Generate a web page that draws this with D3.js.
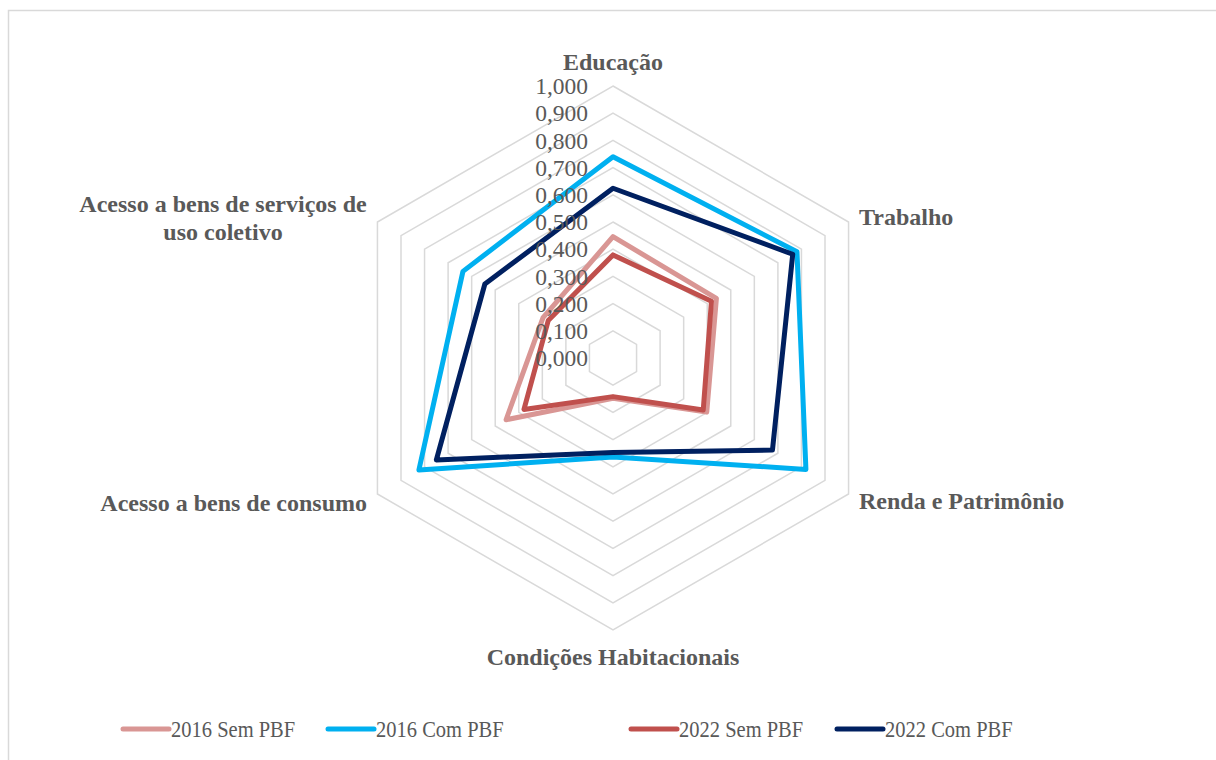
<!DOCTYPE html>
<html>
<head>
<meta charset="utf-8">
<script src="https://cdn.jsdelivr.net/npm/d3@7"></script>
<style>
  body { margin: 0; background: #fff; }
  text { font-family: "Liberation Serif", "Times New Roman", serif; fill: #595959; }
</style>
</head>
<body>
<svg id="radar" width="1216" height="760"></svg>
<script>
const categories = ['Educação', 'Trabalho', 'Renda e Patrimônio', 'Condições Habitacionais',
  'Acesso a bens de consumo', 'Acesso a bens de serviços de uso coletivo'];
const seriesNames = ['2016 Sem PBF', '2016 Com PBF', '2022 Sem PBF', '2022 Com PBF'];
const sem2016 = [0.446, 0.439, 0.398, 0.148, 0.454, 0.297];
const com2016 = [0.740, 0.781, 0.819, 0.364, 0.824, 0.637];
const sem2022 = [0.379, 0.418, 0.383, 0.142, 0.378, 0.275];
const com2022 = [0.624, 0.763, 0.677, 0.347, 0.750, 0.544];
const tickValues = d3.range(0, 1.0001, 0.1);
const colors = ['#d99694', '#00b0f0', '#c0504d', '#002060'];

const series = [sem2016, com2016, sem2022, com2022];

const svg = d3.select('#radar');
const cx = 613, cy = 358;

// chart frame
svg.append('rect')
  .attr('x', 8.5).attr('y', 10.5)
  .attr('width', 1220).attr('height', 760)
  .attr('fill', 'none').attr('stroke', '#d9d9d9').attr('stroke-width', 1.5);

const r = d3.scaleLinear().domain([0, 1]).range([0, 272]);
const angle = d3.scaleLinear().domain([0, categories.length]).range([0, 2 * Math.PI]);

const g = svg.append('g').attr('transform', `translate(${cx},${cy})`);

const radial = d3.lineRadial()
  .angle((d, i) => angle(i))
  .radius(d => r(d))
  .curve(d3.curveLinearClosed);

// grid rings
g.selectAll('.ring')
  .data(tickValues.slice(1))
  .enter()
    .append('path')
    .attr('class', 'ring')
    .attr('d', v => radial(categories.map(() => v)))
    .attr('fill', 'none')
    .attr('stroke', '#d9d9d9')
    .attr('stroke-width', 1.5);

// series
g.selectAll('.series')
  .data(series)
  .enter()
    .append('path')
    .attr('class', 'series')
    .attr('d', d => radial(d))
    .attr('fill', 'none')
    .attr('stroke', (d, i) => colors[i])
    .attr('stroke-width', 5)
    .attr('stroke-linejoin', 'round');

// tick labels
const fmt = d3.formatLocale({ decimal: ',', thousands: '.', grouping: [3], currency: ['', ''] }).format('.3f');
g.selectAll('.tick')
  .data(tickValues)
  .enter()
    .append('text')
    .attr('x', -25)
    .attr('y', v => -r(v))
    .attr('dy', '0.35em')
    .attr('text-anchor', 'end')
    .style('font-size', '23.5px')
    .text(v => fmt(v));

// category labels
const labelPos = [
  { x: 0, y: -296, anchor: 'middle' },
  { x: 246, y: -141, anchor: 'start' },
  { x: 246, y: 143, anchor: 'start' },
  { x: 0, y: 299, anchor: 'middle' },
  { x: -246, y: 145, anchor: 'end' },
  { x: -390, y: -154, anchor: 'middle', lines: ['Acesso a bens de serviços de', 'uso coletivo'] }
];
categories.forEach((c, i) => {
  const p = labelPos[i];
  const t = g.append('text')
    .attr('x', p.x).attr('y', p.y)
    .attr('text-anchor', p.anchor)
    .style('font-size', '24px')
    .style('font-weight', 'bold');
  const lines = p.lines || [c];
  lines.forEach((l, k) => {
    t.append('tspan').attr('x', p.x).attr('dy', k === 0 ? '0.35em' : '1.16em').text(l);
  });
});

// legend (text is a bit condensed in the original)
const legendX = [123, 328, 631, 837];
const legend = svg.selectAll('.legend')
  .data(seriesNames)
  .enter()
    .append('g')
    .attr('class', 'legend')
    .attr('transform', (d, i) => `translate(${legendX[i]},729)`);
legend.append('line')
  .attr('x1', 0).attr('x2', 46)
  .attr('stroke', (d, i) => colors[i])
  .attr('stroke-width', 5)
  .attr('stroke-linecap', 'round');
legend.append('text')
  .attr('transform', 'translate(48,0) scale(0.855,1)')
  .attr('dy', '0.35em')
  .style('font-size', '24px')
  .text(d => d);
</script>
</body>
</html>
